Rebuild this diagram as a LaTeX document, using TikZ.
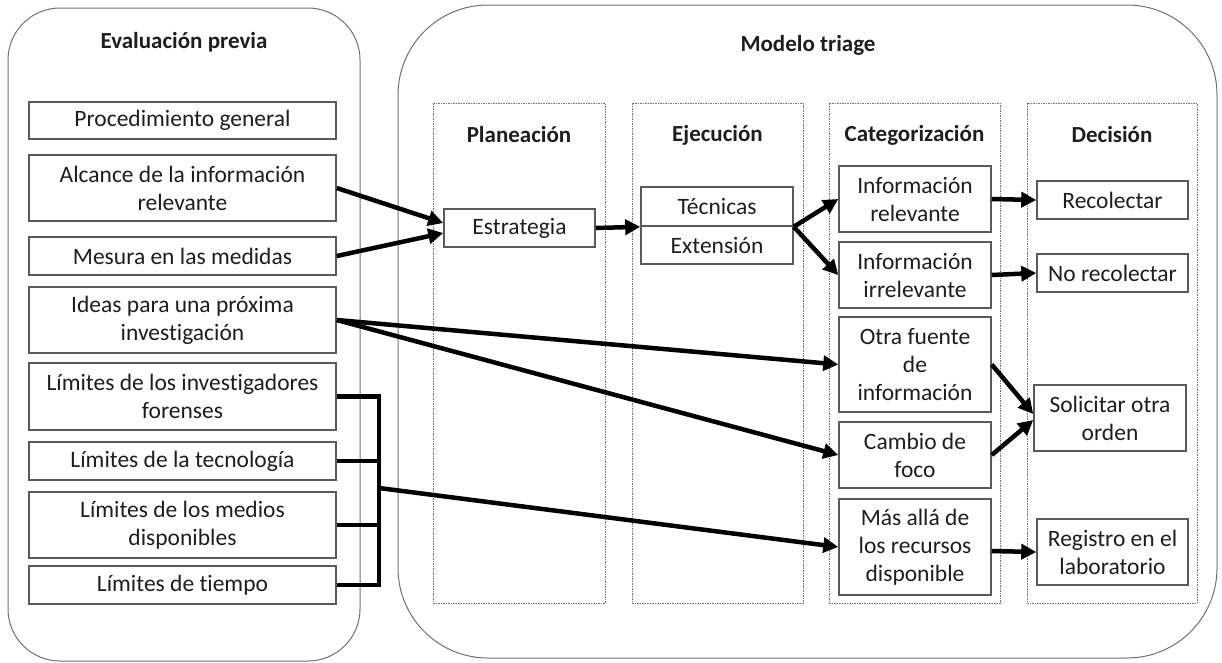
\documentclass[tikz,border=0pt]{standalone}
\usepackage{fontspec}
\setmainfont[Ligatures=NoCommon]{Carlito}
\usetikzlibrary{arrows.meta,calc}
\definecolor{boxline}{HTML}{5A5A5A}
\definecolor{contline}{HTML}{707070}
\definecolor{txt}{HTML}{1E1E1E}
\tikzset{
  box/.style={draw=boxline, line width=1.5pt, fill=white, inner sep=0pt, align=center, text=txt,
    font=\fontsize{23.5}{28}\selectfont},
  title/.style={font=\bfseries\fontsize{23}{27}\selectfont, text=txt, inner sep=0pt},
  cont/.style={draw=contline, line width=1pt},
  col/.style={draw=contline, line width=0.9pt, dash pattern=on 1.5pt off 1pt},
  arr/.style={line width=4.5pt, -{Triangle[length=15pt,width=15pt]}},
  brk/.style={line width=4.5pt}
}
\begin{document}
\begin{tikzpicture}[x=1pt,y=-1pt]
\useasboundingbox (0,0) rectangle (1222,662);
% containers
\draw[cont, rounded corners=52pt] (8,8) rectangle (360,661);
\draw[cont, rounded corners=90pt] (398,5) rectangle (1217,658);
\node[title] (tleft) at (184,42) {Evaluación previa};
\node[title] (tright) at (808,45) {Modelo triage};
% columns
\draw[col] (433,103) rectangle (605,603);
\draw[col] (632,103) rectangle (803,603);
\draw[col] (829,103) rectangle (1000,603);
\draw[col] (1027,103) rectangle (1197,603);
\node[title] (tplan) at (519,135) {Planeación};
\node[title] (tejec) at (717.5,135) {Ejecución};
\node[title] (tcat) at (914.5,135) {Categorización};
\node[title] (tdec) at (1112,135) {Decisión};
% left boxes
\node[box, minimum width=307pt, minimum height=37pt] (proc) at (182.5,120.5) {Procedimiento general};
\node[box, minimum width=307pt, minimum height=66pt] (alc) at (182.5,188) {Alcance de la información\\relevante};
\node[box, minimum width=307pt, minimum height=38pt] (mes) at (182.5,256) {Mesura en las medidas};
\node[box, minimum width=307pt, minimum height=66pt] (ideas) at (182.5,320) {Ideas para una próxima\\investigación};
\node[box, minimum width=307pt, minimum height=67pt] (linv) at (182.5,396.5) {Límites de los investigadores\\forenses};
\node[box, minimum width=307pt, minimum height=38pt] (ltec) at (182.5,461) {Límites de la tecnología};
\node[box, minimum width=307pt, minimum height=66pt] (lmed) at (182.5,525) {Límites de los medios\\disponibles};
\node[box, minimum width=307pt, minimum height=38pt] (ltie) at (182.5,585) {Límites de tiempo};
% planning / execution
\node[box, minimum width=151pt, minimum height=38pt] (estr) at (519.5,228) {Estrategia};
\node[box, minimum width=152pt, minimum height=39pt] (tec) at (717,206.5) {Técnicas};
\node[box, minimum width=152pt, minimum height=38pt] (ext) at (717,245) {Extensión};
% categorization
\node[box, minimum width=152pt, minimum height=66pt] (irel) at (915,199) {Información\\relevante};
\node[box, minimum width=152pt, minimum height=66pt] (iirr) at (915,275) {Información\\irrelevante};
\node[box, minimum width=152pt, minimum height=95pt] (otra) at (915,364.5) {Otra fuente\\de\\información};
\node[box, minimum width=152pt, minimum height=66pt] (camb) at (915,455) {Cambio de\\foco};
\node[box, minimum width=152pt, minimum height=96pt] (masa) at (915,547) {Más allá de\\los recursos\\disponible};
% decision
\node[box, minimum width=151pt, minimum height=38pt] (recol) at (1112.5,200) {Recolectar};
\node[box, minimum width=151pt, minimum height=38pt] (norec) at (1112.5,273) {No recolectar};
\node[box, minimum width=152pt, minimum height=66pt] (solic) at (1110,418) {Solicitar otra\\orden};
\node[box, minimum width=151pt, minimum height=66pt] (regis) at (1112.5,552) {Registro en el\\laboratorio};
% bracket
\coordinate (bt) at (379,396.5);
\coordinate (bb) at (379,585);
\coordinate (bm) at (379,488);
\draw[brk] (linv.east) -- (bt) -- (bb) -- (ltie.east);
\draw[brk] (ltec.east) -- (ltec.east -| bt);
\draw[brk] (lmed.east) -- (lmed.east -| bt);
% arrows
\draw[arr] (alc.east) -- ($(estr.west)+(0,-5)$);
\draw[arr] (mes.east) -- ($(estr.west)+(0,5)$);
\draw[arr] (estr.east) -- (tec.south west);
\draw[arr] (tec.south east) -- (irel.west);
\draw[arr] (tec.south east) -- (iirr.west);
\draw[arr] (irel.east) -- (recol.west);
\draw[arr] (iirr.east) -- (norec.west);
\draw[arr] (ideas.east) -- (otra.west);
\draw[arr] (ideas.east) -- (camb.west);
\draw[arr] (otra.east) -- ($(solic.west)+(0,-4)$);
\draw[arr] (camb.east) -- ($(solic.west)+(0,2)$);
\draw[arr] ($(masa.east)+(0,4)$) -- (regis.west);
\draw[arr] (bm) -- (masa.west);
\end{tikzpicture}
\end{document}
